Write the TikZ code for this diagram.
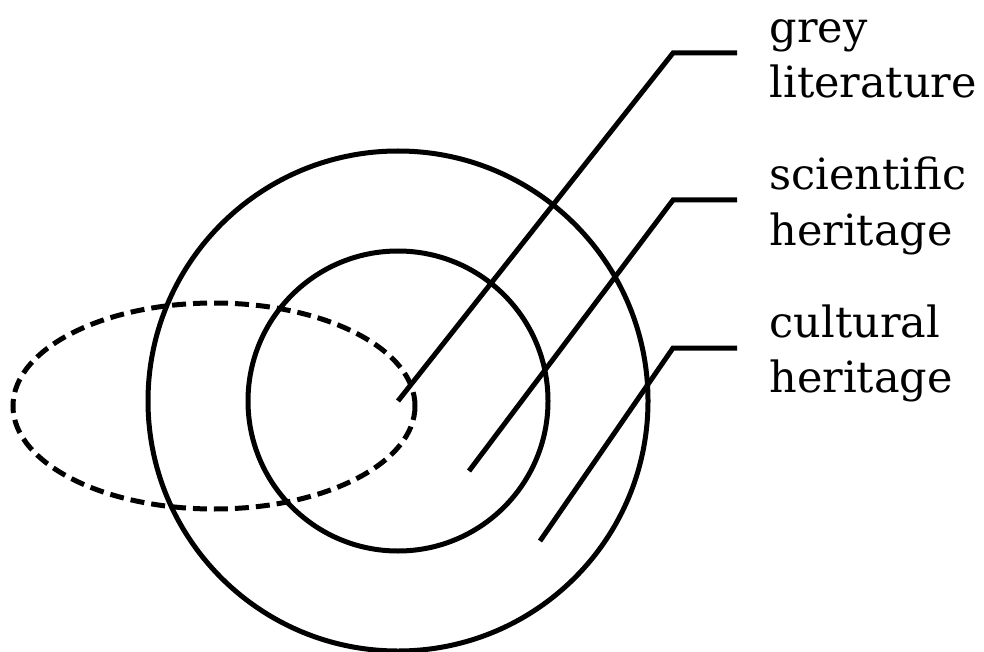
\documentclass[tikz,border=0pt]{standalone}
\usepackage{fontspec}
\setmainfont{DejaVu Serif}
\usetikzlibrary{positioning, shapes.geometric}

\begin{document}
\begin{tikzpicture}[x=1pt,y=-1pt,line width=5pt,
  ring/.style={draw,circle,inner sep=0pt},
  blob/.style={draw,ellipse,inner sep=0pt,dash pattern=on 14pt off 7pt},
  tag/.style={anchor=base west,align=left,inner sep=0pt,
    font=\fontsize{43}{55}\selectfont}]
  \useasboundingbox (0,0) rectangle (984,652);
  % nested areas
  \node[ring,minimum size=500pt] (outer) at (398,401) {};
  \node[ring,minimum size=300pt] (inner) at (398,401) {};
  \node[blob,minimum width=402pt,minimum height=206pt] (grey) at (214,406) {};
  % leader points
  \coordinate (sci) at (469,471);
  \coordinate (cul) at (540,541);
  \coordinate (g1) at (673,53);   \coordinate (g2) at (737,53);
  \coordinate (s1) at (673,200);  \coordinate (s2) at (737,200);
  \coordinate (c1) at (673,348);  \coordinate (c2) at (737,348);
  % labels
  \node[tag] (greylab) at ([xshift=30pt,yshift=-45pt]g2) {grey\\literature};
  \node[tag] (scilab) at ([xshift=30pt,yshift=-45pt]s2) {scientific\\heritage};
  \node[tag] (cullab) at ([xshift=30pt,yshift=-44pt]c2) {cultural\\heritage};
  \draw (inner.center) -- (g1) -- (g2);
  \draw (sci) -- (s1) -- (s2);
  \draw (cul) -- (c1) -- (c2);
\end{tikzpicture}
\end{document}
